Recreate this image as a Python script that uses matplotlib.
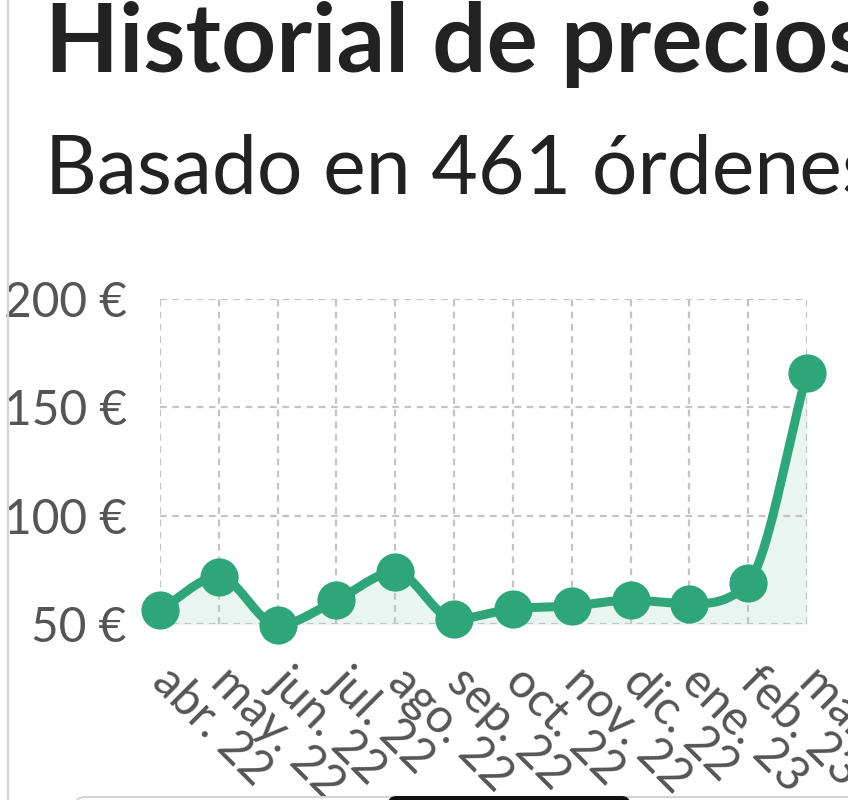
import numpy as np
import matplotlib
matplotlib.use("Agg")
import matplotlib.pyplot as plt
from matplotlib.patches import FancyBboxPatch
from matplotlib.lines import Line2D

# ---- data ----
months = ["abr. 22", "may. 22", "jun. 22", "jul. 22", "ago. 22", "sep. 22",
          "oct. 22", "nov. 22", "dic. 22", "ene. 23", "feb. 23", "mar. 23"]
prices = [56.5, 71.8, 49.5, 61.0, 74.0, 52.3, 57.0, 58.3, 61.0, 59.3, 69.0, 165.7]
y_ticks = [50, 100, 150, 200]
y_tick_labels = ["50 €", "100 €", "150 €", "200 €"]
title = "Historial de precios"
subtitle = "Basado en 461 órdenes"

GREEN = "#2ea67a"
TEXT = "#222222"
TICK = "#555555"
GRID = "#c4c4c4"

plt.rcParams['font.family'] = ['Lato', 'DejaVu Sans']

W, H = 848, 800
fig = plt.figure(figsize=(W / 100, H / 100), dpi=100)
ax = fig.add_axes([160 / W, 1 - 624 / H, (807 - 160) / W, (624 - 299) / H])

x = np.arange(len(prices), dtype=float)
y = np.array(prices, dtype=float)


def monotone_curve(xs, ys, per_seg=40):
    n = len(xs)
    dk = np.diff(ys) / np.diff(xs)
    mk = np.zeros(n)
    mk[0] = dk[0]
    mk[-1] = dk[-1]
    for i in range(1, n - 1):
        if np.sign(dk[i - 1]) != np.sign(dk[i]):
            mk[i] = 0.0
        else:
            mk[i] = (dk[i - 1] + dk[i]) / 2
    for i in range(n - 1):
        if abs(dk[i]) < 1e-12:
            mk[i] = mk[i + 1] = 0.0
            continue
        a = mk[i] / dk[i]
        b = mk[i + 1] / dk[i]
        s = a * a + b * b
        if s <= 9:
            continue
        t = 3 / np.sqrt(s)
        mk[i] = a * t * dk[i]
        mk[i + 1] = b * t * dk[i]
    cx, cy = [], []
    for i in range(n - 1):
        h = xs[i + 1] - xs[i]
        t = np.linspace(0, 1, per_seg, endpoint=(i == n - 2))
        h00 = 2 * t**3 - 3 * t**2 + 1
        h10 = t**3 - 2 * t**2 + t
        h01 = -2 * t**3 + 3 * t**2
        h11 = t**3 - t**2
        cx.append(xs[i] + t * h)
        cy.append(h00 * ys[i] + h10 * h * mk[i] + h01 * ys[i + 1] + h11 * h * mk[i + 1])
    return np.concatenate(cx), np.concatenate(cy)


cx, cy = monotone_curve(x, y)

ax.set_xlim(0, len(prices) - 1)
ax.set_ylim(50, 200)

ax.fill_between(cx, cy, 0, color=GREEN, alpha=0.1, linewidth=0, zorder=1)
ax.plot(cx, cy, color=GREEN, linewidth=6.5, solid_capstyle='round',
        solid_joinstyle='round', zorder=3, clip_on=False)
ax.plot(x, y, linestyle='none', marker='o', markersize=27.5, color=GREEN,
        markeredgewidth=0, zorder=4, clip_on=False)

ax.set_yticks(y_ticks)
ax.set_yticklabels(y_tick_labels)
ax.set_xticks(x)
ax.set_xticklabels(months)
ax.grid(True, color=GRID, linewidth=1.6, linestyle=(0, (3.0, 2.5)), zorder=0)
for s in ax.spines.values():
    s.set_visible(False)
ax.tick_params(axis='both', length=0, labelcolor=TICK, labelsize=34.5)
ax.tick_params(axis='y', pad=24)
ax.tick_params(axis='x', pad=36)
for lab in ax.get_xticklabels():
    lab.set_rotation(-45)
    lab.set_rotation_mode('anchor')
    lab.set_ha('left')
    lab.set_va('center')

# titles
fig.text(45 / W, 1 - 72 / H, title, fontsize=69, fontweight='bold', color=TEXT,
         ha='left', va='baseline')
fig.text(45 / W, 1 - 193 / H, subtitle, fontsize=58, color=TEXT,
         ha='left', va='baseline')

# page chrome: left border, bottom card edge, home indicator
fig.add_artist(Line2D([8 / W, 8 / W], [0, 1], color="#d6d6d6", linewidth=1.5,
                      transform=fig.transFigure))
fig.add_artist(FancyBboxPatch((75 / W, -20 / H), (W + 40 - 75) / W, 23 / H,
                              boxstyle="round,pad=0,rounding_size=0.012",
                              transform=fig.transFigure, facecolor="white",
                              edgecolor="#d4d4d4", linewidth=1.5, zorder=5))
fig.add_artist(FancyBboxPatch((388 / W, -20 / H), (630 - 388) / W, 24 / H,
                              boxstyle="round,pad=0,rounding_size=0.01",
                              transform=fig.transFigure, facecolor="#111111",
                              edgecolor="none", zorder=6))

fig.savefig("out.png", dpi=100)
